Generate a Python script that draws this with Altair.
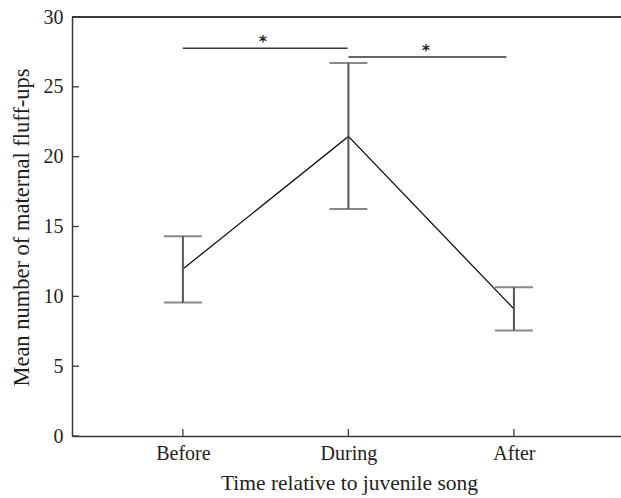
import altair as alt
import pandas as pd

categories = ["Before", "During", "After"]
positions = [1, 2, 3]
means = [11.95, 21.45, 9.1]
upper = [14.3, 26.7, 10.65]
lower = [9.55, 16.25, 7.55]

sig_x1 = [1.0, 2.0]
sig_x2 = [1.995, 2.955]
sig_y = [27.76, 27.14]
star_x = [1.483, 2.468]
y_ticks = [0, 5, 10, 15, 20, 25, 30]

df = pd.DataFrame({"cat": categories, "pos": positions, "mean": means,
                   "upper": upper, "lower": lower})
sig = pd.DataFrame({"x1": sig_x1, "x2": sig_x2, "y": sig_y, "sx": star_x,
                    "label": ["*", "*"]})
yt = pd.DataFrame({"v": y_ticks})
xt = pd.DataFrame({"p": positions})

W, H = 549, 419
FONT = "Liberation Serif"
TXT = "#231f20"
AX = "#3a3a3a"

xscale = alt.Scale(domain=[0.33, 3.647], nice=False, zero=False)
yscale = alt.Scale(domain=[0, 30], nice=False)

label_expr = "datum.value == 1 ? 'Before' : datum.value == 2 ? 'During' : datum.value == 3 ? 'After' : ''"

common = dict(labelFont=FONT, titleFont=FONT, labelFontSize=20,
              labelColor=TXT, titleColor=TXT, titleFontWeight="normal",
              tickSize=0, grid=False, domainColor=AX, domainWidth=1.5)

xaxis = alt.Axis(values=positions, labelExpr=label_expr, title="Time relative to juvenile song",
                 titleFontSize=21.5, labelPadding=7, titlePadding=9, titleX=277, **common)
yaxis = alt.Axis(values=y_ticks, title="Mean number of maternal fluff-ups",
                 titleFontSize=22.5, labelPadding=9, titlePadding=10, titleY=210, **common)

base = alt.Chart(df)

line = base.mark_line(color="#111111", strokeWidth=1.3).encode(
    x=alt.X("pos:Q", scale=xscale, axis=xaxis),
    y=alt.Y("mean:Q", scale=yscale, axis=yaxis),
)
bars = base.mark_rule(color="#555555", strokeWidth=2).encode(
    x="pos:Q", y="lower:Q", y2="upper:Q")
cap_hi = base.mark_tick(color="#555555", thickness=2, size=38, orient="horizontal").encode(
    x="pos:Q", y="upper:Q")
cap_lo = base.mark_tick(color="#555555", thickness=2, size=38, orient="horizontal").encode(
    x="pos:Q", y="lower:Q")

sig_lines = alt.Chart(sig).mark_rule(color="#333333", strokeWidth=1.6).encode(
    x="x1:Q", x2="x2:Q", y="y:Q")
stars = alt.Chart(sig).mark_text(font="DejaVu Sans", fontSize=15, fontWeight="bold",
                                 color=TXT, baseline="alphabetic", dy=-1).encode(
    x="sx:Q", y="y:Q", text="label:N")

top_line = alt.Chart(yt).mark_rule(color=AX, strokeWidth=1.5).encode(
    y=alt.datum(30), x=alt.value(0), x2=alt.value(W))
ytick_marks = alt.Chart(yt).mark_rule(color=AX, strokeWidth=1.3).encode(
    y="v:Q", x=alt.value(0), x2=alt.value(7))
xtick_marks = alt.Chart(xt).mark_rule(color=AX, strokeWidth=1.3).encode(
    x="p:Q", y=alt.value(H), y2=alt.value(H - 7))

chart = alt.layer(line, bars, cap_hi, cap_lo, sig_lines, stars, top_line,
                  ytick_marks, xtick_marks).properties(
    width=W, height=H,
    background="white",
    autosize=alt.AutoSizeParams(type="none"),
    padding={"left": 72, "top": 17, "right": 0, "bottom": 62},
).configure_view(stroke=None)

chart.save("out.html", embed_options={"renderer": "svg", "actions": False})
